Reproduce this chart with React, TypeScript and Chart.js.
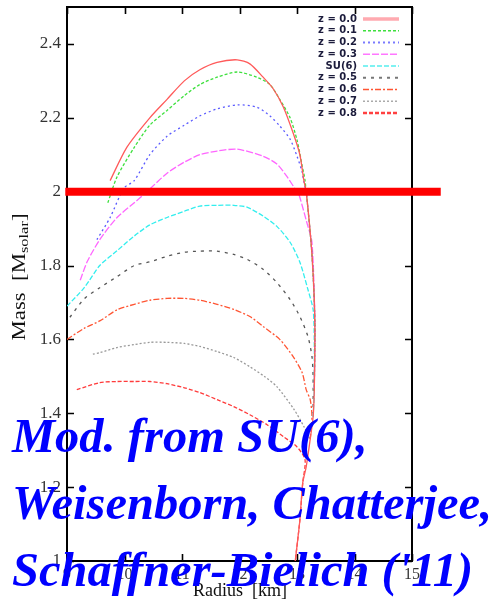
import React, { useEffect, useRef } from "react";
import { Chart, registerables } from "chart.js";
Chart.register(...registerables);

// ---------- data ----------
const xTicks = [9, 10, 11, 12, 13, 14, 15];
const yTicks = [1.0, 1.2, 1.4, 1.6, 1.8, 2.0, 2.2, 2.4];

const seriesLabels = ["z = 0.0", "z = 0.1", "z = 0.2", "z = 0.3", "SU(6)", "z = 0.5", "z = 0.6", "z = 0.7", "z = 0.8"];

const z00R = [9.75, 10.04, 10.44, 10.74, 11.04, 11.31, 11.61, 11.96, 12.18, 12.41, 12.58, 12.76, 12.93, 13.05, 13.12, 13.16, 13.26, 13.31, 13.3, 13.28, 13.23, 13.16, 13.1, 13.05, 12.97];
const z00M = [2.03, 2.12, 2.2, 2.25, 2.3, 2.33, 2.35, 2.357, 2.346, 2.31, 2.28, 2.23, 2.16, 2.1, 2.03, 2.0, 1.83, 1.65, 1.46, 1.39, 1.33, 1.255, 1.212, 1.111, 1.0];

const z01R = [9.71, 9.87, 10.17, 10.44, 10.74, 11.04, 11.31, 11.61, 11.96, 12.3, 12.53, 12.7, 12.88, 13.0, 13.09, 13.14, 13.26, 13.31, 13.3];
const z01M = [1.97, 2.04, 2.12, 2.18, 2.22, 2.26, 2.29, 2.31, 2.324, 2.31, 2.29, 2.25, 2.2, 2.14, 2.07, 2.03, 1.83, 1.65, 1.46];

const z02R = [9.52, 9.75, 9.99, 10.17, 10.44, 10.74, 11.04, 11.31, 11.61, 11.96, 12.3, 12.53, 12.7, 12.88, 13.0, 13.09, 13.12, 13.16, 13.26, 13.31, 13.3];
const z02M = [1.87, 1.93, 2.01, 2.03, 2.1, 2.15, 2.18, 2.205, 2.224, 2.235, 2.229, 2.205, 2.178, 2.142, 2.096, 2.053, 2.026, 2.0, 1.83, 1.65, 1.46];

const z03R = [9.23, 9.35, 9.57, 9.87, 10.17, 10.39, 10.74, 11.04, 11.31, 11.61, 11.96, 12.41, 12.65, 12.83, 12.97, 13.02, 13.17, 13.26, 13.31, 13.3];
const z03M = [1.76, 1.81, 1.87, 1.93, 1.97, 2.0, 2.05, 2.08, 2.1, 2.11, 2.115, 2.096, 2.075, 2.04, 2.007, 1.999, 1.917, 1.863, 1.65, 1.46];

const su6R = [9.0, 9.3, 9.57, 9.87, 10.17, 10.44, 10.74, 11.04, 11.31, 11.61, 11.9, 12.13, 12.41, 12.65, 12.88, 13.05, 13.19, 13.28, 13.3, 13.3, 13.28];
const su6M = [1.69, 1.74, 1.8, 1.84, 1.88, 1.91, 1.93, 1.947, 1.961, 1.963, 1.963, 1.958, 1.934, 1.906, 1.863, 1.809, 1.735, 1.681, 1.6, 1.46, 1.39];

const z05R = [9.05, 9.3, 9.57, 9.87, 10.17, 10.44, 10.74, 11.04, 11.31, 11.61, 11.9, 12.13, 12.41, 12.65, 12.88, 13.05, 13.19, 13.26, 13.28, 13.28];
const z05M = [1.66, 1.71, 1.74, 1.77, 1.8, 1.81, 1.825, 1.836, 1.839, 1.839, 1.83, 1.817, 1.79, 1.754, 1.708, 1.662, 1.608, 1.554, 1.5, 1.4];

const z06R = [9.0, 9.3, 9.57, 9.87, 10.17, 10.44, 10.74, 11.04, 11.31, 11.61, 11.9, 12.18, 12.41, 12.7, 12.93, 13.09, 13.16, 13.23, 13.26, 13.23];
const z06M = [1.6, 1.63, 1.65, 1.68, 1.695, 1.706, 1.711, 1.711, 1.706, 1.695, 1.681, 1.662, 1.635, 1.6, 1.554, 1.51, 1.464, 1.437, 1.391, 1.33];

const z07R = [9.45, 9.57, 9.87, 10.17, 10.44, 10.74, 11.04, 11.31, 11.61, 11.9, 12.18, 12.44, 12.65, 12.95, 13.12, 13.23];
const z07M = [1.56, 1.564, 1.578, 1.586, 1.592, 1.592, 1.589, 1.581, 1.567, 1.551, 1.526, 1.499, 1.472, 1.41, 1.364, 1.328];

const z08R = [9.17, 9.57, 9.87, 10.17, 10.44, 10.74, 11.04, 11.31, 11.61, 11.9, 12.18, 12.48, 12.77, 13.0, 13.14, 13.1, 13.05, 12.97];
const z08M = [1.464, 1.483, 1.486, 1.486, 1.486, 1.48, 1.469, 1.456, 1.437, 1.418, 1.396, 1.369, 1.336, 1.309, 1.274, 1.212, 1.111, 1.0];

const refLineR = [8.97, 15.5];
const refLineM = [2.0, 2.0];

const overlayLines = ["Mod. from SU(6),", "Weisenborn, Chatterjee,", "Schaffner-Bielich ('11)"];

// ---------- styles ----------
const seriesR = [z00R, z01R, z02R, z03R, su6R, z05R, z06R, z07R, z08R];
const seriesM = [z00M, z01M, z02M, z03M, su6M, z05M, z06M, z07M, z08M];
const seriesColors = ["#ff5a5a", "#3ee03e", "#5a5aff", "#ff66ff", "#33eeee", "#555555", "#ff5533", "#999999", "#ff3b3b"];
const seriesDash: number[][] = [[], [3, 2], [2, 3], [7, 2], [5, 2], [3, 5], [6, 2, 2, 2], [2, 2], [4, 2]];
const legendSampleColors = ["#ffaab0", "#3ee03e", "#7a7aff", "#ff77ff", "#55eeee", "#777777", "#ff5533", "#aaaaaa", "#ff4040"];
const legendSampleWidth = [3.5, 1.3, 2, 1.3, 1.3, 2, 1.3, 1.5, 2.5];

const frameAndTicks = {
  id: "frameAndTicks",
  beforeDatasetsDraw(chart: any) {
    const { ctx, chartArea: a, scales } = chart;
    ctx.save();
    ctx.strokeStyle = "#000";
    ctx.lineWidth = 2;
    ctx.strokeRect(a.left, a.top, a.right - a.left, a.bottom - a.top);
    ctx.lineWidth = 1.6;
    const tl = 7;
    ctx.beginPath();
    for (const v of yTicks) {
      const y = Math.round(scales.y.getPixelForValue(v)) + 0.5;
      ctx.moveTo(a.left, y); ctx.lineTo(a.left + tl, y);
      ctx.moveTo(a.right, y); ctx.lineTo(a.right - tl, y);
    }
    for (const v of xTicks) {
      const x = Math.round(scales.x.getPixelForValue(v)) + 0.5;
      ctx.moveTo(x, a.bottom); ctx.lineTo(x, a.bottom - tl);
      ctx.moveTo(x, a.top); ctx.lineTo(x, a.top + tl);
    }
    ctx.stroke();
    ctx.restore();
  },
  afterDraw(chart: any) {
    const { ctx, chartArea: a } = chart;
    ctx.save();
    // legend
    ctx.textAlign = "right";
    ctx.textBaseline = "middle";
    ctx.font = "bold 10px 'DejaVu Sans'";
    seriesLabels.forEach((lab, i) => {
      const y = a.top + 12 + i * 11.75;
      ctx.fillStyle = "#1c1c3c";
      ctx.fillText(lab, a.right - 55, y);
      ctx.strokeStyle = legendSampleColors[i];
      ctx.lineWidth = legendSampleWidth[i];
      ctx.setLineDash(seriesDash[i]);
      ctx.beginPath();
      ctx.moveTo(a.right - 49, y);
      ctx.lineTo(a.right - 13, y);
      ctx.stroke();
    });
    ctx.setLineDash([]);
    // x title
    ctx.fillStyle = "#111";
    ctx.textAlign = "center";
    ctx.font = "18px 'Liberation Serif'";
    ctx.fillText("Radius  [km]", 240, 591);
    // y title with subscript
    ctx.translate(20, 277);
    ctx.rotate(-Math.PI / 2);
    ctx.textAlign = "left";
    const big = "18px 'Liberation Serif'";
    const small = "13px 'Liberation Serif'";
    const p1 = "Mass  [M";
    const p2 = "solar";
    const p3 = "]";
    ctx.font = big;
    const w1 = ctx.measureText(p1).width;
    const w3 = ctx.measureText(p3).width;
    ctx.font = small;
    const w2 = ctx.measureText(p2).width;
    const total = w1 + w2 + w3;
    ctx.scale(127 / total, 1);
    let x0 = -total / 2;
    ctx.font = big;
    ctx.fillText(p1, x0, 0);
    x0 += w1;
    ctx.font = small;
    ctx.fillText(p2, x0, 5);
    x0 += w2;
    ctx.font = big;
    ctx.fillText(p3, x0, 0);
    ctx.restore();
  },
};

export default function App() {
  const ref = useRef<HTMLCanvasElement | null>(null);
  useEffect(() => {
    if (!ref.current) return;
    const datasets: any[] = seriesLabels.map((lab, i) => ({
      label: lab,
      data: seriesR[i].map((r, k) => ({ x: r, y: seriesM[i][k] })),
      borderColor: seriesColors[i],
      borderWidth: 1.3,
      borderDash: seriesDash[i],
      pointRadius: 0,
      tension: 0.25,
      fill: false,
    }));
    datasets.push({
      label: "M = 2",
      data: refLineR.map((r, k) => ({ x: r, y: refLineM[k] })),
      borderColor: "#ff0000",
      borderWidth: 8,
      pointRadius: 0,
      clip: false,
      order: -1,
      borderCapStyle: "butt",
    });
    const chart = new Chart(ref.current, {
      type: "line",
      data: { datasets },
      options: {
        animation: false,
        responsive: false,
        devicePixelRatio: 1,
        layout: { padding: { left: 0, top: 7, right: 79, bottom: 0 } },
        plugins: { legend: { display: false }, tooltip: { enabled: false } },
        scales: {
          x: {
            type: "linear",
            min: 9,
            max: 15,
            afterBuildTicks: (s: any) => { s.ticks = xTicks.map((v) => ({ value: v })); },
            afterFit: (s: any) => { s.height = 39; s.paddingLeft = 0; s.paddingRight = 0; },
            grid: { display: false, drawTicks: false },
            border: { display: false },
            ticks: {
              color: "#333",
              font: { family: "Liberation Serif", size: 16 },
              padding: 4,
              maxRotation: 0,
              callback: (v: any) => String(v),
            },
          },
          y: {
            type: "linear",
            min: 1.0,
            max: 2.5,
            afterBuildTicks: (s: any) => { s.ticks = yTicks.map((v) => ({ value: v })); },
            afterFit: (s: any) => { s.width = 67; s.paddingTop = 0; s.paddingBottom = 0; },
            grid: { display: false, drawTicks: false },
            border: { display: false },
            ticks: {
              color: "#333",
              font: { family: "Liberation Serif", size: 17 },
              padding: 6,
              callback: (v: any) => String(Number(Number(v).toFixed(1))),
            },
          },
        },
      },
      plugins: [frameAndTicks],
    } as any);
    return () => chart.destroy();
  }, []);

  return (
    <div style={{ position: "fixed", left: 0, top: 0, width: 491, height: 600, background: "#fff", overflow: "hidden" }}>
      <canvas ref={ref} width={491} height={600} style={{ position: "absolute", left: 0, top: 0 }} />
      {overlayLines.map((t, i) => (
        <div
          key={i}
          style={{
            position: "absolute",
            left: 12,
            top: 402 + i * 67,
            height: 67,
            lineHeight: "67px",
            whiteSpace: "nowrap",
            fontFamily: "'Liberation Serif', serif",
            fontWeight: "bold",
            fontStyle: "italic",
            fontSize: 48.5,
            color: "#0000ff",
          }}
        >
          {t}
        </div>
      ))}
    </div>
  );
}
